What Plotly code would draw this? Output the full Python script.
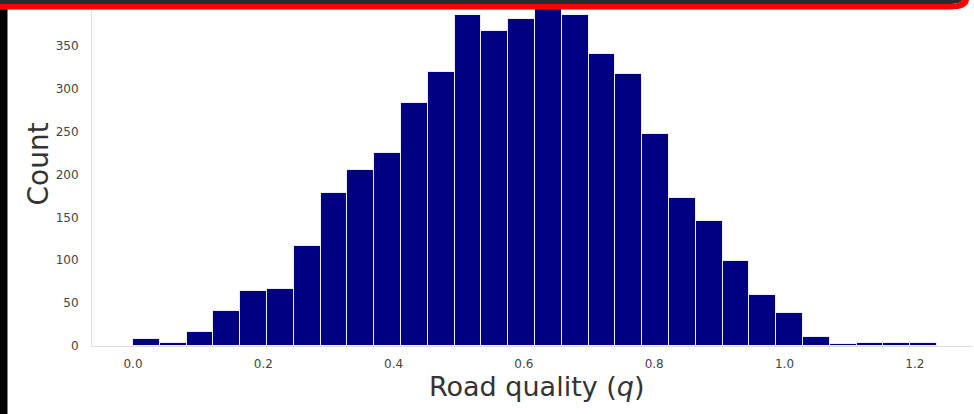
import numpy as np
import plotly.graph_objects as go

# Histogram of road quality q: 30 equal bins from q_min to q_max
q_min = 0.0
q_max = 1.234
counts = [8, 4, 16, 41, 64, 66, 117, 178, 205, 225,
          284, 320, 386, 368, 381, 395, 386, 341, 317, 247,
          173, 146, 99, 60, 39, 10, 2, 4, 4, 4]
x_tick_vals = [0.0, 0.2, 0.4, 0.6, 0.8, 1.0, 1.2]
x_tick_text = ["0.0", "0.2", "0.4", "0.6", "0.8", "1.0", "1.2"]
y_tick_vals = [0, 50, 100, 150, 200, 250, 300, 350]
y_tick_text = ["0", "50", "100", "150", "200", "250", "300", "350"]
x_title = "Road quality (<i>q</i>)"
y_title = "Count"

edges = np.linspace(q_min, q_max, len(counts) + 1)
centers = (edges[:-1] + edges[1:]) / 2
width = edges[1] - edges[0]

W, H = 974, 414
ML, MR, MT, MB = 92, 2, 0, 68
PW, PH = W - ML - MR, H - MT - MB

fig = go.Figure()
fig.add_trace(go.Bar(
    x=centers, y=counts, width=width,
    marker=dict(color="#000080", line=dict(color="rgba(255,255,255,0.85)", width=1)),
    hoverinfo="x+y",
))


def px_x(p):
    return (p - ML) / PW


def px_y(p):
    return (H - MB - p) / PH


def path(points):
    s = ""
    for cmd, pts in points:
        s += cmd + " " + " ".join(f"{px_x(x):.5f},{px_y(y):.5f}" for x, y in pts) + " "
    return s + "Z"


shapes = [
    dict(type="rect", xref="paper", yref="paper",
         x0=px_x(0), x1=px_x(7.5), y0=px_y(H), y1=px_y(9),
         fillcolor="black", line=dict(width=0), layer="above"),
    dict(type="path", xref="paper", yref="paper",
         path=path([("M", [(0, 0)]), ("L", [(962, 0)]), ("Q", [(961, 4), (950, 4)]), ("L", [(0, 4)])]),
         fillcolor="#2b2b2b", line=dict(width=0), layer="above"),
    dict(type="path", xref="paper", yref="paper",
         path=path([("M", [(0, 4)]), ("L", [(950, 4)]), ("Q", [(961, 4), (962, 0)]),
                    ("L", [(969, 0)]), ("Q", [(968, 9.5), (950, 9.5)]), ("L", [(0, 9.5)])]),
         fillcolor="#ff0000", line=dict(width=0), layer="above"),
]

annotations = [
    dict(text=x_title, xref="paper", yref="paper", x=px_x(536.5), y=px_y(386),
         xanchor="center", yanchor="middle", showarrow=False,
         font=dict(size=27, color="#333333", family="DejaVu Sans")),
    dict(text=y_title, xref="paper", yref="paper", x=px_x(38), y=px_y(164.5),
         xanchor="center", yanchor="middle", showarrow=False, textangle=-90,
         font=dict(size=28, color="#333333", family="DejaVu Sans")),
]

x_lo = (ML - 133) / 651.5
x_hi = x_lo + PW / 651.5
y_hi = PH / (300 / 350)

fig.update_layout(
    width=W, height=H,
    margin=dict(l=ML, r=MR, t=MT, b=MB, pad=0),
    paper_bgcolor="white", plot_bgcolor="white",
    showlegend=False, bargap=0,
    font=dict(family="DejaVu Sans", color="#444444"),
    shapes=shapes, annotations=annotations,
    xaxis=dict(
        range=[x_lo, x_hi], tickmode="array", tickvals=x_tick_vals, ticktext=x_tick_text,
        showgrid=False, zeroline=False, showline=True, linecolor="#dddddd", linewidth=1,
        ticks="", ticklabelstandoff=7, tickfont=dict(size=12, color="#444444"),
    ),
    yaxis=dict(
        range=[0, y_hi], tickmode="array", tickvals=y_tick_vals, ticktext=y_tick_text,
        showgrid=False, zeroline=False, showline=True, linecolor="#dddddd", linewidth=1,
        ticks="", ticklabelstandoff=10, tickfont=dict(size=12, color="#444444"),
    ),
)

fig.write_html("out.html", config={"displayModeBar": False},
               post_script="document.body.style.margin='0';")
